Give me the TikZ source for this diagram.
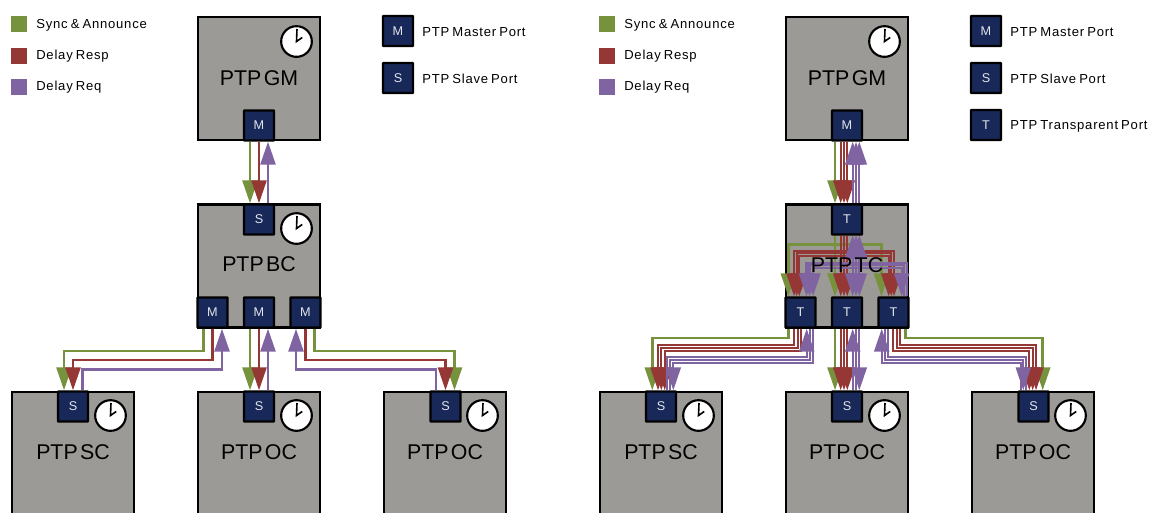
\documentclass[tikz,border=0pt]{standalone}
\usepackage{fontspec}
\setmainfont{Liberation Sans}
\newfontfamily\legendfont[LetterSpace=6,WordSpace=0.7]{Liberation Sans}
\newfontfamily\boxfont[WordSpace=0.4]{Liberation Sans}
\usetikzlibrary{arrows.meta}
\definecolor{syncgreen}{RGB}{118,146,60}
\definecolor{respred}{RGB}{149,55,53}
\definecolor{reqpurple}{RGB}{128,100,162}
\definecolor{boxgray}{RGB}{155,154,150}
\definecolor{portnavy}{RGB}{24,41,89}
\tikzset{
  ptpbox/.style={draw=black, line width=1.8pt, fill=boxgray, minimum width=91.5pt, minimum height=92.25pt, outer sep=0pt},
  ptplabel/.style={font=\boxfont\fontsize{16}{18}\selectfont, inner sep=0pt},
  portbox/.style={draw=black, line width=1.8pt, fill=portnavy, text=white!88!portnavy, font=\fontsize{9.5}{11}\selectfont, minimum size=22.5pt, inner sep=0pt, rounded corners=0.5pt},
  legendsq/.style={fill=#1, minimum size=12pt, inner sep=0pt},
  legendtxt/.style={anchor=west, font=\legendfont\fontsize{9.8}{11}\selectfont, inner sep=0pt, yshift=-0.9pt},
  clockface/.style={circle, draw=black, line width=1.6pt, fill=white, minimum size=23pt, inner sep=0pt,
    path picture={\draw[line width=1.2pt, shift={(path picture bounding box.center)}] (0.5,-12.5) -- (0,0) -- (5.7,-4);}},
  downhead/.style={-{Triangle[length=17.25pt,width=11.25pt]}},
  bothhead/.style={{Triangle[length=17.25pt,width=11.25pt]}-{Triangle[length=17.25pt,width=11.25pt]}},
  uphead/.style={{Triangle[length=17.25pt,width=11.25pt]}-},
  syncline/.style={syncgreen, line width=1.9pt, downhead},
  respline/.style={respred, line width=1.9pt, downhead},
  reqline/.style={reqpurple, line width=1.9pt, uphead},
  tresp/.style={respred, line width=1.6pt, downhead},
  treqplain/.style={reqpurple, line width=1.6pt},
  treq/.style={treqplain, bothhead},
  trequp/.style={treqplain, uphead},
  treqdown/.style={treqplain, downhead},
}
\begin{document}
\begin{tikzpicture}[x=0.75pt,y=-0.75pt]
\clip (0,0) rectangle (1155,512);

% left network
\node[legendsq=syncgreen] (lsync) at (19,24) {};
\node[legendsq=respred] (lresp) at (19,56) {};
\node[legendsq=reqpurple] (lreq) at (19,87) {};
\node[legendtxt] (lsynctxt) at (36,24) {Sync \& Announce};
\node[legendtxt] (lresptxt) at (36,55) {Delay Resp};
\node[legendtxt] (lreqtxt) at (36,86) {Delay Req};
\node[portbox] (lmport) at (398,31) {M};
\node[portbox] (lsport) at (398,78) {S};
\node[legendtxt] (lmtxt) at (422,31) {PTP Master Port};
\node[legendtxt] (lstxt) at (422,78) {PTP Slave Port};

\node[ptpbox] (gm) at (259,78.5) {};
\node[ptpbox] (bc) at (259,266) {};
\node[ptpbox] (sc) at (73,453.5) {};
\node[ptpbox] (oca) at (259,453.5) {};
\node[ptpbox] (ocb) at (445,453.5) {};
\node[ptplabel] (gmtxt) at (259,78) {PTP GM};
\node[ptplabel] (bctxt) at (259,264) {PTP BC};
\node[ptplabel] (sctxt) at (73,452) {PTP SC};
\node[ptplabel] (ocatxt) at (259,452) {PTP OC};
\node[ptplabel] (ocbtxt) at (445,452) {PTP OC};
\node[clockface] (gmclk) at (296.5,41.5) {};
\node[clockface] (bcclk) at (296.5,228.5) {};
\node[clockface] (scclk) at (110.5,415.5) {};
\node[clockface] (ocaclk) at (296.5,415.5) {};
\node[clockface] (ocbclk) at (482.5,415.5) {};

\node[portbox] (gmM) at (259,125.5) {M};
\node[portbox] (bcS) at (259,219.5) {S};
\node[portbox] (bcMa) at (212.5,312.5) {M};
\node[portbox] (bcMb) at (259,312.5) {M};
\node[portbox] (bcMc) at (305.5,312.5) {M};
\node[portbox] (scS) at (73,406.5) {S};
\node[portbox] (ocaS) at (259,406.5) {S};
\node[portbox] (ocbS) at (445.5,406.5) {S};

\draw[syncline] ([shift={(-9,0)}]gmM.south) -- ([shift={(-9,0)}]bcS.north);
\draw[respline] (gmM.south) -- (bcS.north);
\draw[reqline] ([shift={(9,0)}]gmM.south) -- ([shift={(9,0)}]bcS.north);
\draw[syncline] ([shift={(-9,0)}]bcMb.south) -- ([shift={(-9,0)}]ocaS.north);
\draw[respline] (bcMb.south) -- (ocaS.north);
\draw[reqline] ([shift={(9,0)}]bcMb.south) -- ([shift={(9,0)}]ocaS.north);
\draw[syncline] ([shift={(-9,0)}]bcMa.south) -- ++(0,22.5) -| ([shift={(-9,0)}]scS.north);
\draw[respline] (bcMa.south) -- ++(0,31.5) -| (scS.north);
\draw[reqline] ([shift={(9.5,0)}]bcMa.south) -- ++(0,41) -| ([shift={(9.5,0)}]scS.north);
\draw[syncline] ([shift={(9,0)}]bcMc.south) -- ++(0,22.5) -| ([shift={(9,0)}]ocbS.north);
\draw[respline] (bcMc.south) -- ++(0,31.5) -| (ocbS.north);
\draw[reqline] ([shift={(-9.5,0)}]bcMc.south) -- ++(0,41) -| ([shift={(-9.5,0)}]ocbS.north);

% right network
\node[legendsq=syncgreen] (rsync) at (607,24) {};
\node[legendsq=respred] (rresp) at (607,56) {};
\node[legendsq=reqpurple] (rreq) at (607,87) {};
\node[legendtxt] (rsynctxt) at (624,24) {Sync \& Announce};
\node[legendtxt] (rresptxt) at (624,55) {Delay Resp};
\node[legendtxt] (rreqtxt) at (624,86) {Delay Req};
\node[portbox] (rmport) at (986,31) {M};
\node[portbox] (rsport) at (986,78) {S};
\node[portbox] (rtport) at (986,125) {T};
\node[legendtxt] (rmtxt) at (1010,31) {PTP Master Port};
\node[legendtxt] (rstxt) at (1010,78) {PTP Slave Port};
\node[legendtxt] (rttxt) at (1010,125) {PTP Transparent Port};

\node[ptpbox] (tgm) at (847,78.5) {};
\node[ptpbox] (tc) at (847,266) {};
\node[ptpbox] (tsc) at (661,453.5) {};
\node[ptpbox] (toca) at (847,453.5) {};
\node[ptpbox] (tocb) at (1033,453.5) {};
\node[ptplabel] (tgmtxt) at (847,78) {PTP GM};
\node[ptplabel] (tsctxt) at (661,452) {PTP SC};
\node[ptplabel] (tocatxt) at (847,452) {PTP OC};
\node[ptplabel] (tocbtxt) at (1033,452) {PTP OC};
\node[clockface] (tgmclk) at (884.5,41.5) {};
\node[clockface] (tscclk) at (698.5,415.5) {};
\node[clockface] (tocaclk) at (884.5,415.5) {};
\node[clockface] (tocbclk) at (1070.5,415.5) {};

\node[portbox] (tgmM) at (847,125.5) {M};
\node[portbox] (tcT) at (847,219.5) {T};
\node[portbox] (tcTa) at (800.5,312.5) {T};
\node[portbox] (tcTb) at (847,312.5) {T};
\node[portbox] (tcTc) at (893.5,312.5) {T};
\node[portbox] (tscS) at (661,406.5) {S};
\node[portbox] (tocaS) at (847,406.5) {S};
\node[portbox] (tocbS) at (1033.5,406.5) {S};

% grandmaster to TC
\draw[syncline] ([shift={(-12,0)}]tgmM.south) -- ([shift={(-12,0)}]tcT.north);
\foreach \d in {-6.3,-3,0.3} \draw[tresp] ([shift={(\d,0)}]tgmM.south) -- ([shift={(\d,0)}]tcT.north);
\foreach \d in {5.7,9,12.3} \draw[trequp] ([shift={(\d,0)}]tgmM.south) -- ([shift={(\d,0)}]tcT.north);

% inside TC
\draw[syncline] ([shift={(-12,0)}]tcT.south) -- ++(0,9) -| ([shift={(-12.2,0)}]tcTa.north);
\draw[syncline] ([shift={(-12,0)}]tcT.south) -- ++(0,9) -| ([shift={(-12,0)}]tcTc.north);
\draw[syncline] ([shift={(-12,0)}]tcT.south) -- ([shift={(-12,0)}]tcTb.north);
\foreach \d/\r/\a/\c in {-6.3/15/-6.5/0.5,-3/17.7/-3.8/-2.2,0.3/20.3/-1.2/-4.8} {
  \draw[tresp] ([shift={(\d,0)}]tcT.south) -- ++(0,\r) -| ([shift={(\a,0)}]tcTa.north);
  \draw[tresp] ([shift={(\d,0)}]tcT.south) -- ++(0,\r) -| ([shift={(\c,0)}]tcTc.north);
  \draw[tresp] ([shift={(\d,0)}]tcT.south) -- ([shift={(\d,0)}]tcTb.north);
}
\foreach \d/\r/\a/\c/\s in {5.7/27/6/13.2/trequp,9/29.7/9/10.5/trequp,12.3/32.3/12.5/8.2/treq} {
  \draw[treq] ([shift={(\d,0)}]tcT.south) -- ++(0,\r) -| ([shift={(\a,0)}]tcTa.north);
  \draw[\s] ([shift={(\d,0)}]tcT.south) -- ++(0,\r) -| ([shift={(\c,0)}]tcTc.north);
  \draw[treq] ([shift={(\d,0)}]tcT.south) -- ([shift={(\d,0)}]tcTb.north);
}
\node[ptplabel] (tctxt) at (847,265) {PTP TC};

% TC to clocks below
\draw[syncline] ([shift={(-12,0)}]tcTb.south) -- ([shift={(-12,0)}]tocaS.north);
\foreach \d in {-6.3,-3,0.3} \draw[tresp] ([shift={(\d,0)}]tcTb.south) -- ([shift={(\d,0)}]tocaS.north);
\foreach \d/\s in {5.7/trequp,9/treqplain,12.3/treqdown} \draw[\s] ([shift={(\d,0)}]tcTb.south) -- ([shift={(\d,0)}]tocaS.north);
\draw[syncline] ([shift={(-12.2,0)}]tcTa.south) -- ++(0,9.3) -| ([shift={(-8.7,0)}]tscS.north);
\foreach \a/\r/\b in {-6.2/16/-3,-2.8/19.3/0.3,0.5/22.7/3.7} \draw[tresp] ([shift={(\a,0)}]tcTa.south) -- ++(0,\r) -| ([shift={(\b,0)}]tscS.north);
\foreach \a/\r/\b/\s in {6.2/28.7/5.7/trequp,9.5/31.3/9/treqplain,12.8/34.3/12.3/treqdown} \draw[\s] ([shift={(\a,0)}]tcTa.south) -- ++(0,\r) -| ([shift={(\b,0)}]tscS.north);
\draw[syncline] ([shift={(12.2,0)}]tcTc.south) -- ++(0,9.3) -| ([shift={(9.2,0)}]tocbS.north);
\foreach \a/\r/\b in {6.5/16/2.5,3.2/19.3/-0.8,-0.2/22.7/-4.2} \draw[tresp] ([shift={(\a,0)}]tcTc.south) -- ++(0,\r) -| ([shift={(\b,0)}]tocbS.north);
\foreach \a/\r/\b/\s in {-5.2/28.7/-7.5/treqplain,-8.5/31.3/-10.2/treqdown,-11.8/34.3/-12.8/trequp} \draw[\s] ([shift={(\a,0)}]tcTc.south) -- ++(0,\r) -| ([shift={(\b,0)}]tocbS.north);
\end{tikzpicture}
\end{document}
